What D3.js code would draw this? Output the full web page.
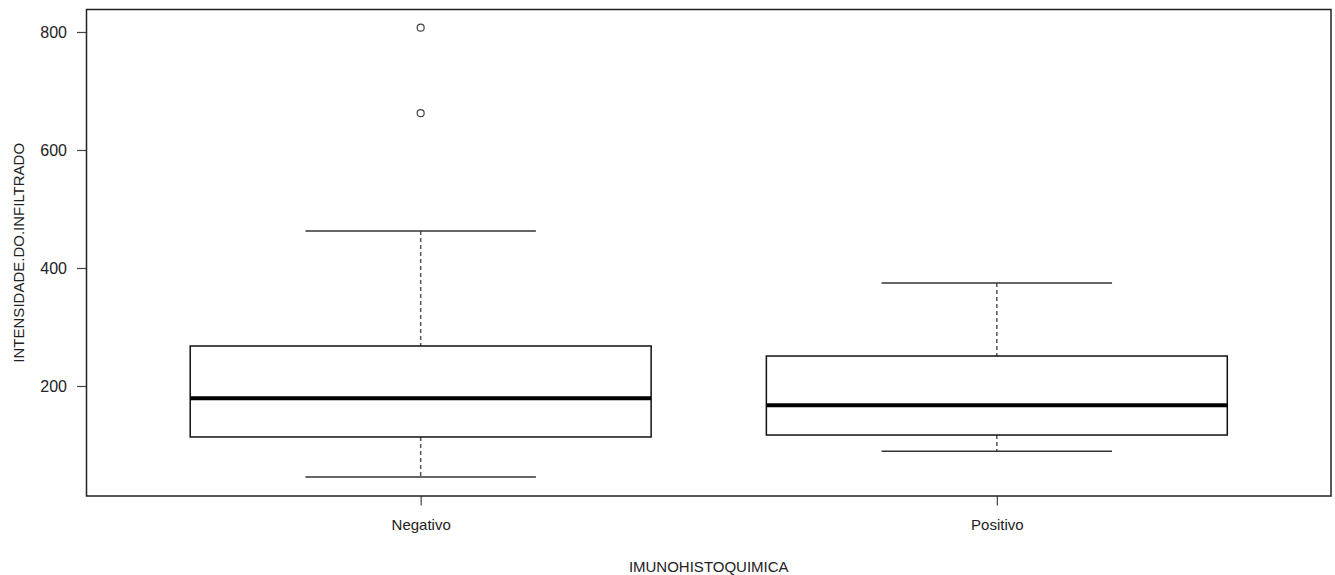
<!DOCTYPE html>
<html>
<head>
<meta charset="utf-8">
<script src="https://cdn.jsdelivr.net/npm/d3@7"></script>
<style>
  body { margin: 0; background: white; }
  text { font-family: "Liberation Sans", Arial, sans-serif; fill: #222; }
</style>
</head>
<body>
<script>
// data
var categories = ["Negativo", "Positivo"];
var lowerWhisker = [45.8, 89.6];
var q1 = [113.6, 116.9];
var medians = [179.3, 167.3];
var q3 = [267.8, 250.8];
var upperWhisker = [462.7, 374.6];
var outliers = [[807.3, 662.4], []];
var yTicks = [200, 400, 600, 800];

var width = 1335, height = 575;

var svg = d3.select("body").append("svg")
    .attr("width", width)
    .attr("height", height);

// plot region, like R's default extension of the axis ranges
var x = d3.scaleLinear().domain([0.42, 2.58]).range([86.5, 1331]);
var y = d3.scaleLinear().domain([13.56, 838.1]).range([496, 9.5]);

var boxHalf = x(1.4) - x(1);
var capHalf = x(1.2) - x(1);

// y axis
var yAxis = d3.axisLeft(y).tickValues(yTicks).tickSize(9.5).tickPadding(10);
var gy = svg.append("g")
    .attr("transform", "translate(" + x.range()[0] + ",0)")
    .call(yAxis);
gy.select(".domain").remove();
gy.selectAll("line").attr("stroke", "#444").attr("stroke-width", 1.2);
gy.selectAll("text").style("font-size", "16px").attr("fill", "#222");

// x axis
var xAxis = d3.axisBottom(x).tickValues([1, 2])
    .tickFormat(function(d){ return categories[d - 1]; })
    .tickSize(9.5).tickPadding(14);
var gx = svg.append("g")
    .attr("transform", "translate(0," + y.range()[0] + ")")
    .call(xAxis);
gx.select(".domain").remove();
gx.selectAll("line").attr("stroke", "#444").attr("stroke-width", 1.2);
gx.selectAll("text").style("font-size", "15px").attr("fill", "#222");

// boxes
var groups = svg.append("g").attr("class", "boxes")
    .selectAll("g")
    .data(categories)
    .enter().append("g");

groups.each(function(name, i) {
    var g = d3.select(this);
    var cx = x(i + 1);

    // dashed whiskers
    g.append("line")
        .attr("x1", cx).attr("x2", cx)
        .attr("y1", y(upperWhisker[i])).attr("y2", y(q3[i]))
        .attr("stroke", "#555").attr("stroke-width", 1.5)
        .attr("stroke-dasharray", "4,3");
    g.append("line")
        .attr("x1", cx).attr("x2", cx)
        .attr("y1", y(q1[i])).attr("y2", y(lowerWhisker[i]))
        .attr("stroke", "#555").attr("stroke-width", 1.5)
        .attr("stroke-dasharray", "4,3");

    // whisker caps
    [upperWhisker[i], lowerWhisker[i]].forEach(function(v) {
        g.append("line")
            .attr("x1", cx - capHalf).attr("x2", cx + capHalf)
            .attr("y1", y(v)).attr("y2", y(v))
            .attr("stroke", "#333").attr("stroke-width", 1.5);
    });

    // the box
    g.append("rect")
        .attr("x", cx - boxHalf)
        .attr("y", y(q3[i]))
        .attr("width", boxHalf * 2)
        .attr("height", y(q1[i]) - y(q3[i]))
        .attr("fill", "white")
        .attr("stroke", "#111").attr("stroke-width", 1.5);

    // median
    g.append("line")
        .attr("x1", cx - boxHalf).attr("x2", cx + boxHalf)
        .attr("y1", y(medians[i])).attr("y2", y(medians[i]))
        .attr("stroke", "black").attr("stroke-width", 4);

    // outliers
    g.selectAll("circle")
        .data(outliers[i])
        .enter().append("circle")
        .attr("cx", cx)
        .attr("cy", function(d){ return y(d); })
        .attr("r", 3.5)
        .attr("fill", "none")
        .attr("stroke", "#444").attr("stroke-width", 1.2);
});

// frame around the plot
svg.append("rect")
    .attr("x", x.range()[0]).attr("y", y.range()[1])
    .attr("width", x.range()[1] - x.range()[0])
    .attr("height", y.range()[0] - y.range()[1])
    .attr("fill", "none")
    .attr("stroke", "#222").attr("stroke-width", 1.5);

// axis titles
svg.append("text")
    .attr("x", (x.range()[0] + x.range()[1]) / 2)
    .attr("y", 572)
    .attr("text-anchor", "middle")
    .style("font-size", "15px")
    .text("IMUNOHISTOQUIMICA");

svg.append("text")
    .attr("transform", "translate(24," + ((y.range()[0] + y.range()[1]) / 2) + ") rotate(-90)")
    .attr("text-anchor", "middle")
    .style("font-size", "15px")
    .text("INTENSIDADE.DO.INFILTRADO");
</script>
</body>
</html>
